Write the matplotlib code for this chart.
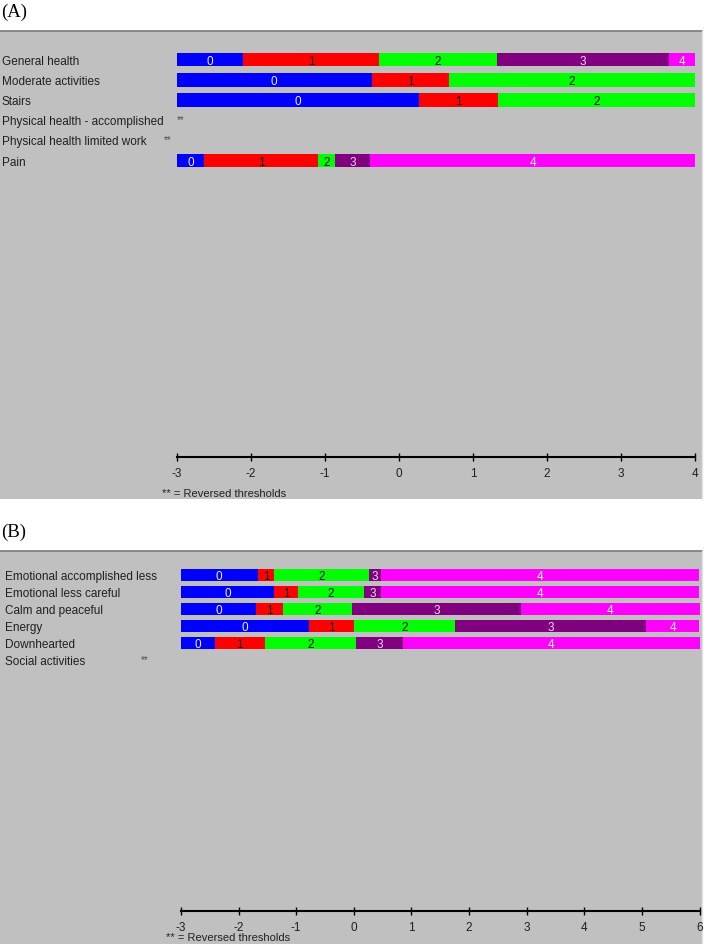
import numpy as np
import matplotlib
matplotlib.use('Agg')
import matplotlib.pyplot as plt
from matplotlib.patches import Rectangle
import matplotlib.transforms as mtransforms

W, H = 708, 945  # figure size in pixels

# ---- data: panel A ----
items_a = ['General health', 'Moderate activities', 'Stairs',
           'Physical health - accomplished', 'Physical health limited work', 'Pain']
thresh_a = [[-2.11, -0.27, 1.32, 3.65],
            [-0.37, 0.68],
            [0.27, 1.34],
            None,  # reversed
            None,  # reversed
            [-2.64, -1.09, -0.86, -0.39]]
xlim_a = (-3, 4)

# ---- data: panel B ----
items_b = ['Emotional accomplished less', 'Emotional less careful', 'Calm and peaceful',
           'Energy', 'Downhearted', 'Social activities']
thresh_b = [[-1.67, -1.38, 0.26, 0.48],
            [-1.38, -0.97, 0.18, 0.48],
            [-1.70, -1.23, -0.03, 2.90],
            [-0.78, 0.01, 1.76, 5.07],
            [-2.41, -1.55, 0.04, 0.86],
            None]  # reversed
xlim_b = (-3, 6)

cat_colors = ['#0000FF', '#FF0000', '#00FF00', '#800080', '#FF00FF']
txt_colors = ['#F0F0FF', 'black', 'black', '#F0D8F0', 'white']
gray = '#C0C0C0'

plt.rcParams['font.family'] = ['Liberation Sans', 'DejaVu Sans']
plt.rcParams['axes.unicode_minus'] = False
fig = plt.figure(figsize=(W / 100, H / 100), dpi=100)
fig.patch.set_facecolor('white')


def fx(px):
    return px / W


def fy(py):
    return 1 - py / H


def panel(tag, tag_y, box_top, box_bot, x0, x1, row0, step, axis_y, bar_h,
          items, thresh, xlim, star_x, label_x, fs, note_dy):
    # gray background box with dark top border
    fig.patches.append(Rectangle((0, fy(box_bot)), fx(702), fy(box_top) - fy(box_bot),
                                 transform=fig.transFigure, facecolor=gray,
                                 edgecolor='none', zorder=-5))
    fig.add_artist(plt.Line2D([0, fx(702)], [fy(box_top), fy(box_top)],
                              transform=fig.transFigure, color='#7A7A7A', lw=1.2,
                              zorder=-4))
    fig.add_artist(plt.Line2D([fx(702), fx(702)], [fy(box_bot), fy(box_top)],
                              transform=fig.transFigure, color='#E4E4E4', lw=1.0,
                              zorder=-4))
    fig.text(fx(1), fy(tag_y), tag, family='Liberation Serif', fontsize=13.5,
             va='center', ha='left')

    top = row0 - step / 2
    nrows = (axis_y - top) / step
    ax = fig.add_axes([fx(x0), fy(axis_y), fx(x1) - fx(x0), fy(top) - fy(axis_y)])
    ax.set_facecolor('none')
    ax.set_xlim(*xlim)
    ax.set_ylim(nrows - 0.5, -0.5)
    for s in ['top', 'left', 'right']:
        ax.spines[s].set_visible(False)
    ax.spines['bottom'].set_linewidth(1.5)
    ax.set_yticks([])
    ax.set_xticks(np.arange(xlim[0], xlim[1] + 1))
    ax.tick_params(axis='x', direction='inout', length=6, width=1, pad=4,
                   labelsize=fs)
    for lab in ax.get_xticklabels():
        lab.set_color('#202020')

    lab_tr = mtransforms.blended_transform_factory(fig.transFigure, ax.transData)
    for i, (name, th) in enumerate(zip(items, thresh)):
        ax.text(fx(label_x), i + 0.05, name, transform=lab_tr, fontsize=fs,
                va='center', ha='left', color='#202020')
        if th is None:
            ax.text(fx(star_x[name]), i - 0.05, '**', transform=lab_tr,
                    fontsize=7, va='center', ha='left', color='#505050')
            continue
        edges = [xlim[0]] + list(th) + [xlim[1]]
        lefts = np.array(edges[:-1])
        widths = np.diff(edges)
        ax.barh([i] * len(widths), widths, left=lefts, height=bar_h,
                color=cat_colors[:len(widths)], edgecolor='none')
        for k in range(len(widths)):
            ax.text(lefts[k] + widths[k] / 2, i + 0.05, str(k), ha='center',
                    va='center', fontsize=fs, color=txt_colors[k])

    fig.text(fx(x0 - 15), fy(axis_y + note_dy), '** = Reversed thresholds',
             fontsize=fs - 0.5, va='center', ha='left', color='#202020')
    return ax


panel('(A)', 12, 32, 500, 177, 695, 60.5, 20.2, 458, 0.69,
      items_a, thresh_a, xlim_a,
      {'Physical health - accomplished': 177, 'Physical health limited work': 164},
      2, 8.5, 36)
panel('(B)', 532, 552, 945, 181, 699.5, 576, 17, 912, 0.66,
      items_b, thresh_b, xlim_b,
      {'Social activities': 141},
      5, 8.5, 26)

fig.savefig('out.png', dpi=100)
